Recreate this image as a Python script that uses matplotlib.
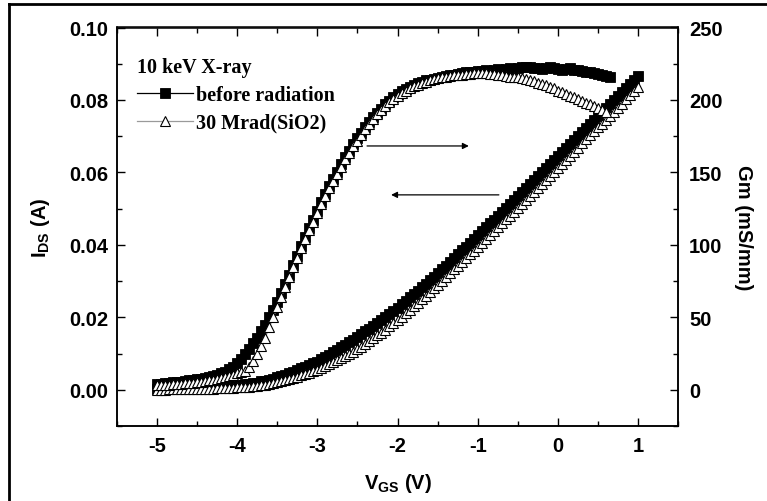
import matplotlib
matplotlib.use("Agg")
import matplotlib.pyplot as plt
import numpy as np
from matplotlib.ticker import MultipleLocator
from matplotlib.lines import Line2D

# ---------------- data ----------------
# Gate-voltage sweeps (V)
vgs_ids = np.linspace(-5.0, 1.0, 121)
vgs_gm_before = np.linspace(-5.0, 0.65, 114)
vgs_gm_after = np.linspace(-5.0, 0.60, 113)

# Drain current I_DS (A), before radiation
ids_before = [
    .0001, .0001, .0001, .0002, .0002, .0002, .0003, .0003, .0003, .0004,
    .0004, .0005, .0005, .0006, .0007, .0007, .0008, .0009, .0010, .0011,
    .0012, .0013, .0015, .0016, .0018, .0020, .0023, .0025, .0028, .0031,
    .0035, .0038, .0042, .0046, .0050, .0054, .0059, .0063, .0068, .0073,
    .0078, .0084, .0090, .0097, .0103, .0110, .0117, .0124, .0131, .0138,
    .0145, .0153, .0161, .0169, .0177, .0185, .0193, .0201, .0210, .0218,
    .0227, .0236, .0245, .0255, .0264, .0274, .0283, .0293, .0302, .0312,
    .0322, .0332, .0343, .0353, .0364, .0374, .0385, .0395, .0406, .0416,
    .0427, .0438, .0449, .0459, .0470, .0481, .0492, .0503, .0513, .0524,
    .0535, .0546, .0557, .0568, .0579, .0590, .0601, .0612, .0623, .0634,
    .0645, .0656, .0667, .0678, .0689, .0700, .0711, .0722, .0733, .0744,
    .0755, .0766, .0777, .0788, .0799, .0810, .0821, .0833, .0844, .0855,
    .0866]

# Drain current I_DS (A), after 30 Mrad(SiO2)
ids_after = [
    .0000, .0000, .0000, .0001, .0001, .0001, .0001, .0001, .0002, .0002,
    .0002, .0002, .0003, .0003, .0003, .0004, .0004, .0005, .0005, .0006,
    .0007, .0007, .0008, .0009, .0010, .0011, .0013, .0014, .0016, .0019,
    .0022, .0024, .0027, .0030, .0033, .0036, .0040, .0043, .0047, .0051,
    .0055, .0060, .0065, .0070, .0076, .0081, .0087, .0093, .0099, .0105,
    .0112, .0119, .0126, .0134, .0142, .0150, .0158, .0166, .0175, .0184,
    .0193, .0202, .0212, .0221, .0231, .0240, .0250, .0260, .0270, .0280,
    .0290, .0300, .0311, .0321, .0332, .0342, .0353, .0363, .0374, .0384,
    .0395, .0406, .0417, .0427, .0438, .0449, .0460, .0471, .0481, .0492,
    .0503, .0514, .0525, .0536, .0547, .0558, .0569, .0580, .0591, .0602,
    .0613, .0624, .0635, .0646, .0657, .0668, .0680, .0691, .0702, .0713,
    .0724, .0735, .0746, .0757, .0768, .0779, .0790, .0802, .0813, .0824,
    .0836]

# Transconductance Gm (mS/mm), before radiation
gm_before = [
    4.0, 4.2, 4.5, 4.8, 5.1, 5.4, 5.7, 6.0, 6.4, 6.8,
    7.2, 7.7, 8.2, 8.8, 9.5, 10.3, 11.3, 12.5, 14.0, 16.0,
    18.5, 21.5, 24.5, 28, 32, 36, 40.5, 45, 50, 55,
    60.5, 66.5, 73, 79.5, 86, 92.5, 99, 105.5, 111.5, 117.5,
    123.5, 129.5, 135, 140.5, 145.5, 150.5, 155.5, 160.5, 165, 169.5,
    173.5, 177.5, 181, 184.5, 188, 191, 194, 197, 199.5, 202,
    204, 206, 207.5, 209, 210.5, 211.5, 212.5, 213.5, 214, 214.5,
    215, 215.5, 216.5, 217, 217.5, 218, 218.5, 219, 219, 219.5,
    220, 220, 220.5, 220, 221, 221.5, 221, 221.5, 222, 221.5,
    222, 222.5, 223, 222.5, 222, 222, 221.5, 222, 222.5, 222,
    221.5, 221, 221.5, 222, 221, 220.5, 220, 219.5, 219, 218.5,
    218, 217, 216.5, 216]

# Transconductance Gm (mS/mm), after 30 Mrad(SiO2)
gm_after = [
    3.0, 3.1, 3.3, 3.5, 3.7, 3.9, 4.1, 4.4, 4.7, 5.0,
    5.3, 5.7, 6.1, 6.5, 7.0, 7.5, 8.1, 8.8, 9.6, 10.5,
    11.5, 12, 13, 16, 20, 25, 30, 36, 43, 50,
    57, 64, 71, 78, 84.5, 91, 97.5, 104, 110, 116,
    122, 128, 133.5, 139, 144, 149, 154, 159, 163.5, 168,
    172, 176, 180, 183.5, 187, 190, 193, 196, 198.5, 201,
    203, 205, 206.5, 208, 209.5, 210.5, 211.5, 212.5, 213.5, 214.5,
    215, 215.5, 216, 216.5, 217, 217.5, 217.5, 218, 218, 218.5,
    218.5, 218.5, 218.5, 218, 218, 217.5, 217, 216.5, 216, 215.5,
    215.5, 215, 214.5, 214, 213, 212, 211, 210, 209, 208,
    206.5, 205.5, 204, 203, 202, 200.5, 199.5, 198, 197, 196,
    194.5, 193, 192]

legend_title = "10 keV X-ray"
labels = ["before radiation", "30 Mrad(SiO2)"]

# ---------------- style ----------------
plt.rcParams["font.family"] = ["Liberation Sans", "DejaVu Sans"]
plt.rcParams["mathtext.fontset"] = "custom"
plt.rcParams["mathtext.rm"] = "Liberation Sans:bold"
plt.rcParams["mathtext.it"] = "Liberation Sans:bold"
plt.rcParams["mathtext.bf"] = "Liberation Sans:bold"

W, H = 767, 502
fig = plt.figure(figsize=(W / 100, H / 100), dpi=100)
ax = fig.add_axes([117 / W, 1 - 427 / H, (678 - 117) / W, (427 - 28.5) / H])
ax2 = ax.twinx()

gray = "#9a9a9a"
sq = dict(marker="s", ms=6.5, mfc="black", mec="black", mew=0.6,
          color="black", lw=0.9)
tri = dict(marker="^", ms=7.5, mfc="white", mec="black", mew=0.8,
           color=gray, lw=0.9)

ax.plot(vgs_ids, ids_before, zorder=2, **sq)
ax.plot(vgs_ids, ids_after, zorder=3, **tri)
ax2.plot(vgs_gm_before, gm_before, zorder=2, **sq)
ax2.plot(vgs_gm_after, gm_after, zorder=3, **tri)

ax.set_xlim(-5.5, 1.5)
ax.set_ylim(-0.01, 0.10)
ax2.set_ylim(-25, 250)

ax.xaxis.set_major_locator(MultipleLocator(1))
ax.xaxis.set_minor_locator(MultipleLocator(0.5))
ax.yaxis.set_major_locator(MultipleLocator(0.02))
ax.yaxis.set_minor_locator(MultipleLocator(0.01))
ax2.yaxis.set_major_locator(MultipleLocator(50))
ax2.yaxis.set_minor_locator(MultipleLocator(25))
ax.yaxis.set_major_formatter(plt.FuncFormatter(lambda v, p: f"{v:.2f}"))
ax.xaxis.set_major_formatter(plt.FuncFormatter(lambda v, p: f"{v:g}"))

tfs = 14.5
ax.tick_params(axis="x", which="both", direction="in", top=True, bottom=True,
               pad=7, labelsize=tfs)
ax.tick_params(axis="y", which="both", direction="in", left=True, right=False,
               pad=6, labelsize=tfs)
ax2.tick_params(axis="y", which="both", direction="in", pad=8, labelsize=tfs)
for a in (ax, ax2):
    a.tick_params(which="major", length=6, width=1.0)
    a.tick_params(which="minor", length=3.5, width=1.0)
    for lab in a.get_xticklabels() + a.get_yticklabels():
        lab.set_fontweight("bold")
    for s in a.spines.values():
        s.set_linewidth(1.1)

ax.set_xlabel(r"V$_{\mathregular{GS}}$ (V)", fontsize=tfs, fontweight="bold")
ax.set_ylabel(r"I$_{\mathregular{DS}}$ (A)", fontsize=tfs, fontweight="bold")
ax2.set_ylabel("Gm (mS/mm)", fontsize=tfs, fontweight="bold", rotation=270)
ax.xaxis.set_label_coords(0.5, -0.112)
ax.yaxis.set_label_coords(-0.116, 0.5)
ax2.yaxis.set_label_coords(1.133, 0.5)

# arrows indicating which axis each family belongs to
ax.annotate("", xy=(-1.11, 0.0673), xytext=(-2.38, 0.0673),
            arrowprops=dict(arrowstyle="-|>", lw=0.9, color="black",
                            mutation_scale=9, shrinkA=0, shrinkB=0))
ax.annotate("", xy=(-2.08, 0.0538), xytext=(-0.735, 0.0538),
            arrowprops=dict(arrowstyle="-|>", lw=0.9, color="black",
                            mutation_scale=9, shrinkA=0, shrinkB=0))

# legend
h1 = Line2D([], [], **sq)
h2 = Line2D([], [], **tri)
lfont = {"family": "Liberation Serif", "weight": "bold", "size": 14.5}
leg = ax2.legend([h1, h2], labels, title=legend_title, loc="upper left",
                 bbox_to_anchor=(0.017, 0.952), frameon=False, prop=lfont,
                 title_fontproperties=lfont, alignment="left", borderpad=0,
                 handlelength=2.8, handletextpad=0.15, labelspacing=0.4,
                 numpoints=1)

# outer frame of the figure (top and left visible, right/bottom at the edge)
frame = dict(transform=fig.transFigure, color="black", lw=2.0)
fig.add_artist(Line2D([8.5 / W, 8.5 / W], [0, 1 - 5 / H], **frame))
fig.add_artist(Line2D([8.5 / W, 1], [1 - 5 / H, 1 - 5 / H], **frame))

fig.savefig("out.png", dpi=100)
